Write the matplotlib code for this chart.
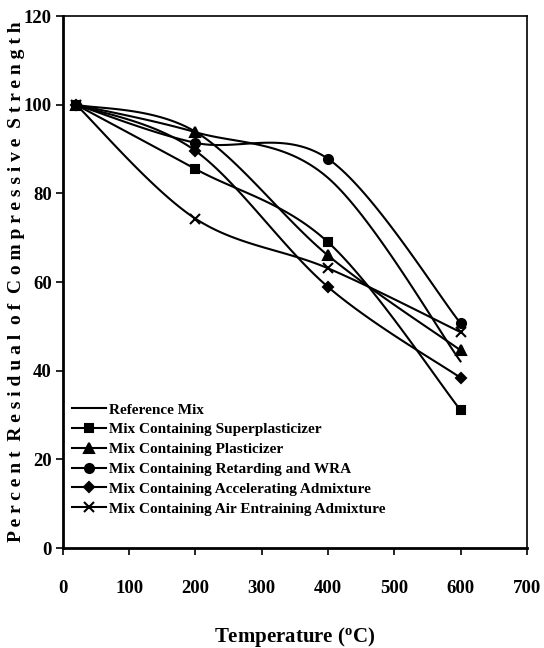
import numpy as np
import matplotlib
matplotlib.use("Agg")
import matplotlib.pyplot as plt

# data
temps = [20, 200, 400, 600]
reference_mix = [100, 93.8, 83.5, 42.1]
superplasticizer = [100, 85.5, 69.0, 31.1]
plasticizer = [100, 93.9, 66.0, 44.6]
retarding_wra = [100, 91.4, 87.8, 50.7]
accelerating = [100, 89.6, 58.9, 38.4]
air_entraining = [100, 74.3, 63.1, 48.7]

series = [
    ("Reference Mix", reference_mix, None, 0),
    ("Mix Containing Superplasticizer", superplasticizer, "s", 6),
    ("Mix Containing Plasticizer", plasticizer, "^", 6.5),
    ("Mix Containing Retarding and WRA", retarding_wra, "o", 6.5),
    ("Mix Containing Accelerating Admixture", accelerating, "D", 5.5),
    ("Mix Containing Air Entraining Admixture", air_entraining, "x", 7.5),
]

x_ticks = [0, 100, 200, 300, 400, 500, 600, 700]
y_ticks = [0, 20, 40, 60, 80, 100, 120]


def smooth(xs, ys, n=40):
    # excel style smoothed line (bezier through the points)
    p = np.column_stack([xs, ys]).astype(float)
    out = []
    for i in range(len(p) - 1):
        p0 = p[max(i - 1, 0)]
        p1 = p[i]
        p2 = p[i + 1]
        p3 = p[min(i + 2, len(p) - 1)]
        b1 = p1 + (p2 - p0) / 6
        b2 = p2 - (p3 - p1) / 6
        t = np.linspace(0, 1, n)[:, None]
        seg = (1 - t) ** 3 * p1 + 3 * (1 - t) ** 2 * t * b1 + 3 * (1 - t) * t ** 2 * b2 + t ** 3 * p2
        out.append(seg)
    c = np.vstack(out)
    return c[:, 0], c[:, 1]


plt.rcParams['font.family'] = ['Liberation Serif', 'DejaVu Serif']
plt.rcParams['font.weight'] = 'bold'

fig = plt.figure(figsize=(5.44, 6.48), dpi=100)
ax = fig.add_axes([0.1154, 0.1543, 0.853, 0.821])

for name, vals, mk, ms in series:
    sx, sy = smooth(temps, vals)
    ax.plot(sx, sy, color='black', lw=1.5, zorder=2)
    if mk:
        ax.plot(temps, vals, linestyle='none', marker=mk, markersize=ms,
                color='black', mew=1.5, zorder=3)
    # legend proxy
    ax.plot([], [], color='black', lw=1.5, marker=mk, markersize=ms, mew=1.5, label=name)

ax.set_xlim(0, 700)
ax.set_ylim(0, 120)
ax.set_xticks(x_ticks)
ax.set_yticks(y_ticks)
ax.tick_params(axis='x', direction='out', length=5, width=1.2, pad=18, labelsize=13.5)
ax.tick_params(axis='y', direction='out', length=5, width=1.2, pad=3, labelsize=13.5)
for s in ax.spines.values():
    s.set_linewidth(1.2)
ax.spines['left'].set_linewidth(2)
ax.spines['bottom'].set_linewidth(2)

ax.set_xlabel("Temperature ($\\mathregular{^{o}}$C)", fontsize=15, fontweight='bold', labelpad=20)
ylab = "  ".join(" ".join(w) for w in "Percent Residual of Compressive Strength".split())
ax.set_ylabel(ylab, fontsize=14, fontweight='bold')
ax.yaxis.set_label_coords(-0.082, 0.5)

leg = ax.legend(loc='upper left', bbox_to_anchor=(0.0, 0.29), frameon=False,
                fontsize=11, handlelength=2.2, handletextpad=0.2,
                labelspacing=0.4, borderaxespad=0.2)

fig.savefig("out.png", dpi=100)
